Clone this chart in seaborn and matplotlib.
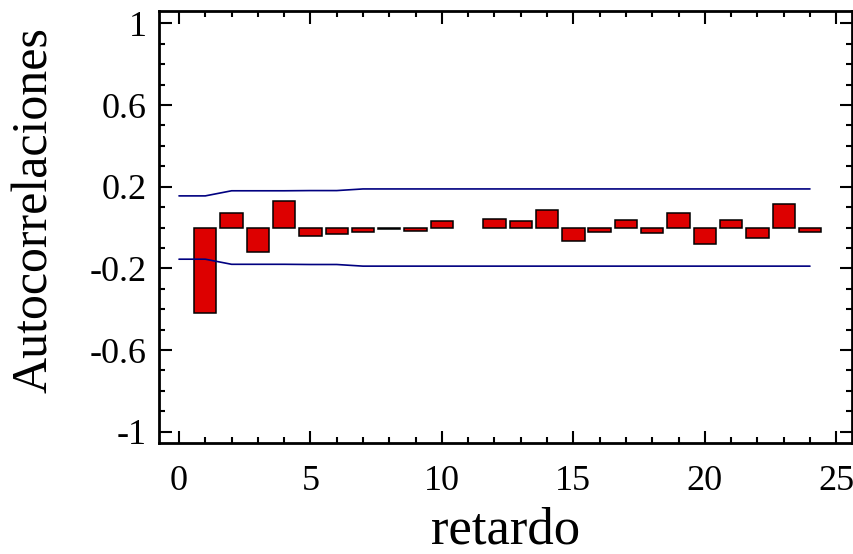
import matplotlib
matplotlib.use('Agg')

import matplotlib.pyplot as plt
import seaborn as sns
import numpy as np
from matplotlib.ticker import MultipleLocator, FixedLocator

# Autocorrelaciones por retardo (el retardo 11 no tiene barra)
lags = [1, 2, 3, 4, 5, 6, 7, 8, 9, 10, 12, 13, 14, 15, 16, 17, 18, 19, 20, 21, 22, 23, 24]
acf = [-0.42, 0.073, -0.12, 0.13, -0.04, -0.03, -0.023, -0.005, -0.018, 0.033,
       0.04, 0.03, 0.088, -0.064, -0.023, 0.035, -0.025, 0.07, -0.08, 0.035,
       -0.052, 0.117, -0.023]

# Limites de probabilidad (95%)
band_lags = list(range(0, 25))
band_upper = [0.155, 0.155, 0.180, 0.180, 0.180, 0.181, 0.181, 0.189, 0.189, 0.189,
              0.189, 0.189, 0.189, 0.189, 0.189, 0.189, 0.189, 0.189, 0.189, 0.189,
              0.189, 0.189, 0.189, 0.189, 0.189]
band_lower = [-v for v in band_upper]

y_ticks = [-1, -0.6, -0.2, 0.2, 0.6, 1]
y_tick_labels = ['-1', '-0.6', '-0.2', '0.2', '0.6', '1']
x_ticks = [0, 5, 10, 15, 20, 25]

sns.set_style('ticks')
plt.rcParams['font.family'] = ['Liberation Serif', 'DejaVu Serif']
plt.rcParams['text.color'] = 'black'
plt.rcParams['axes.labelcolor'] = 'black'
plt.rcParams['xtick.color'] = 'black'
plt.rcParams['ytick.color'] = 'black'

fig = plt.figure(figsize=(8.54, 5.54), dpi=100)
ax = fig.add_axes([0.1862, 0.2004, 0.8115, 0.7796])

sns.barplot(x=lags, y=acf, native_scale=True, width=0.85, color='#DD0000',
            saturation=1, edgecolor='black', linewidth=1.1, ax=ax)
sns.lineplot(x=band_lags, y=band_upper, color='#000080', linewidth=1.2, ax=ax)
sns.lineplot(x=band_lags, y=band_lower, color='#000080', linewidth=1.2, ax=ax)

ax.set_xlim(-0.76, 25.6)
ax.set_ylim(-1.055, 1.06)

ax.xaxis.set_major_locator(FixedLocator(x_ticks))
ax.xaxis.set_minor_locator(MultipleLocator(1))
ax.set_xticklabels([str(t) for t in x_ticks])
ax.yaxis.set_major_locator(FixedLocator(y_ticks))
ax.yaxis.set_minor_locator(MultipleLocator(0.1))
ax.set_yticklabels(y_tick_labels)

ax.tick_params(which='both', direction='in', top=True, right=True, width=1.5,
               colors='black')
ax.tick_params(which='major', length=9, labelsize=26)
ax.tick_params(axis='x', which='major', pad=16)
ax.tick_params(axis='y', which='major', pad=9)
ax.tick_params(which='minor', length=4.5)
for s in ax.spines.values():
    s.set_linewidth(2)
    s.set_color('black')

ax.set_xlabel('retardo', fontsize=38, labelpad=6)
ax.set_ylabel('Autocorrelaciones', fontsize=36)
ax.yaxis.set_label_coords(-0.146, 0.54)

fig.savefig('out.png', dpi=100)
